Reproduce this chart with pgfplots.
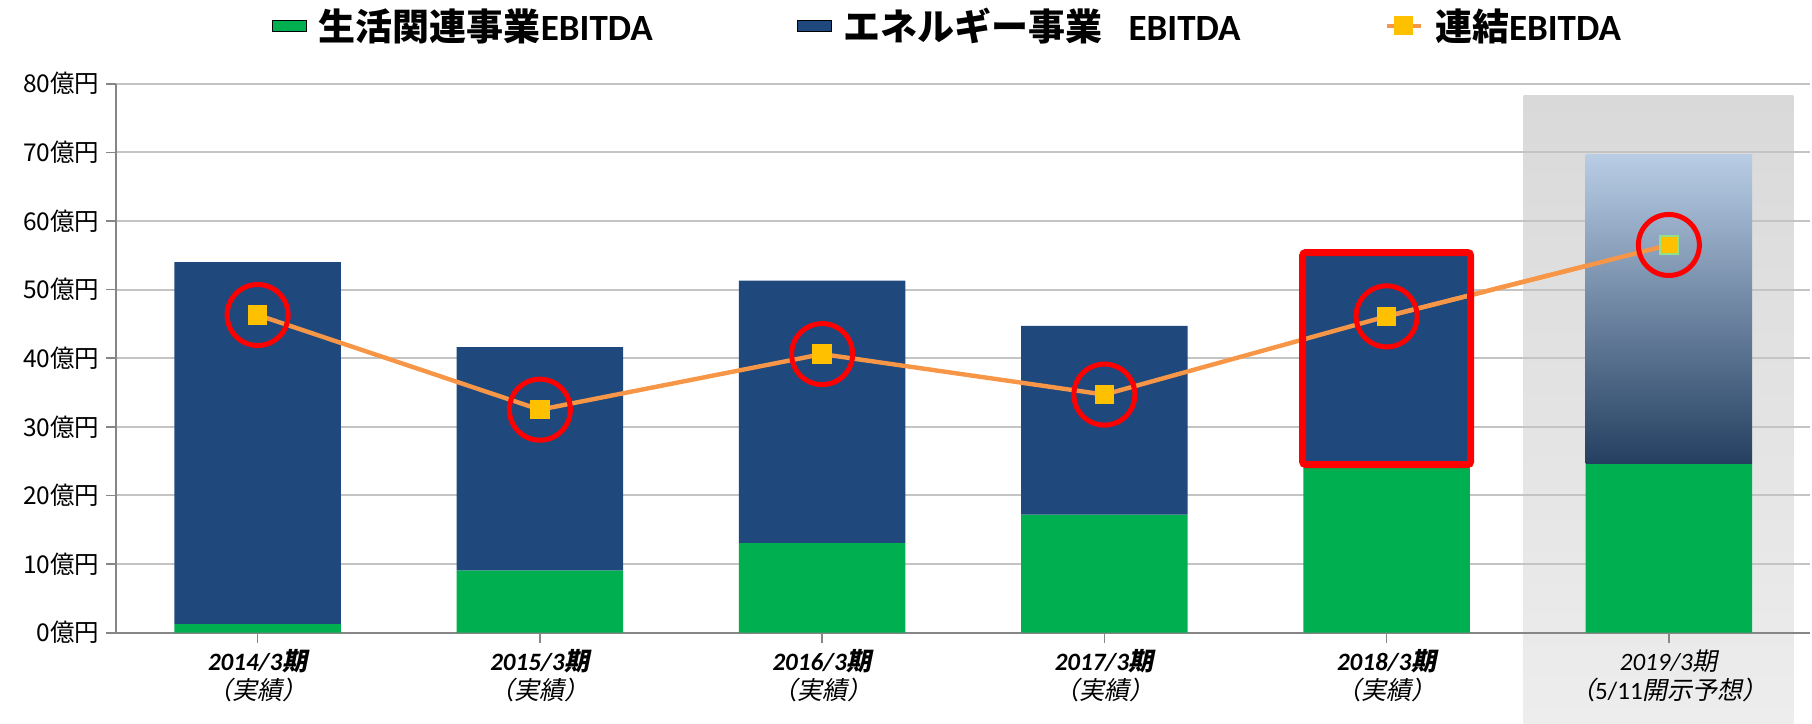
\documentclass[border=0pt]{standalone}
\usepackage{pgfplots}
\pgfplotsset{compat=1.18}
\usepackage{fontspec}
\setmainfont{Carlito}
\newfontfamily\jp{Noto Sans CJK JP}
\newfontfamily\jpi{Noto Sans CJK JP}[FakeSlant=0.2]
\definecolor{grn}{HTML}{00B050}
\definecolor{nav}{HTML}{1F497D}
\definecolor{org}{HTML}{F79646}
\definecolor{yel}{HTML}{FFC000}
\definecolor{lgr}{HTML}{92E08A}
\definecolor{gridc}{HTML}{C4C4C4}
\definecolor{axc}{HTML}{868686}
\definecolor{bgtop}{HTML}{D9D9D9}
\definecolor{bgbot}{HTML}{EDEDED}
\definecolor{gtop}{HTML}{B9CDE5}
\definecolor{gmid}{HTML}{376092}
\definecolor{gbot}{HTML}{243F60}
\begin{document}
\begin{tikzpicture}
\shade[top color=bgtop, bottom color=bgbot] (703.6pt,-45.5pt) rectangle (838.4pt,268.7pt);
\path (-58.25pt,-45.5pt) rectangle (847.75pt,316pt);
\begin{axis}[
  scale only axis, width=846.75pt, height=274.5pt,
  xmin=-0.5, xmax=5.5, ymin=0, ymax=80,
  ybar stacked, bar width=0.59,
  reverse stacked plots=false,
  axis x line*=bottom, axis y line*=left,
  axis line style={draw=axc, line width=1pt},
  tick align=outside,
  major tick length=5pt,
  ytick={0,10,20,30,40,50,60,70,80},
  yticklabels={0{\jp 億円},10{\jp 億円},20{\jp 億円},30{\jp 億円},40{\jp 億円},50{\jp 億円},60{\jp 億円},70{\jp 億円},80{\jp 億円}},
  y tick label style={font=\jp\fontsize{12.25pt}{14pt}\selectfont},
  ymajorgrids, grid style={draw=gridc, line width=1pt},
  tick style={draw=axc, line width=0.8pt},
  xtick={0,1,2,3,4,5},
  xticklabels={
    {\bfseries\itshape 2014/3{\jpi 期}\\{\jpi （実績）}},
    {\bfseries\itshape 2015/3{\jpi 期}\\{\jpi （実績）}},
    {\bfseries\itshape 2016/3{\jpi 期}\\{\jpi （実績）}},
    {\bfseries\itshape 2017/3{\jpi 期}\\{\jpi （実績）}},
    {\bfseries\itshape 2018/3{\jpi 期}\\{\jpi （実績）}},
    {\itshape 2019/3{\jpi 期}\\{\jpi （}5/11{\jpi 開示予想）}}},
  x tick label style={align=center, font=\fontsize{12.5pt}{14.5pt}\selectfont},
  legend style={at={(0.088,1.1056)}, anchor=west, draw=none, fill=none,
    legend columns=3,
    font=\fontsize{18.5pt}{21pt}\selectfont\bfseries,
    /tikz/every odd column/.append style={column sep=4pt},
    /tikz/every even column/.append style={column sep=70pt}},
  legend cell align=left,
]
\addplot[fill=grn, draw=none, area legend]
  coordinates {(0,1.3) (1,9.1) (2,13.1) (3,17.2) (4,24.1) (5,24.6)};
\addplot[fill=nav, draw=none, area legend]
  coordinates {(0,52.7) (1,32.5) (2,38.2) (3,27.5) (4,30.9) (5,0)};
\addplot[sharp plot, stack plots=false, draw=org, line width=2.2pt, line legend,
  mark=square*, mark size=4.6pt, mark options={fill=yel, draw=yel, line width=0.5pt}]
  coordinates {(0,46.3) (1,32.5) (2,40.6) (3,34.7) (4,46.1) (5,56.5)};
\addplot[top color=gtop, middle color=gmid, bottom color=gbot, draw=none]
  coordinates {(0,0) (1,0) (2,0) (3,0) (4,0) (5,45.1)};
\addplot[sharp plot, stack plots=false, draw=org, line width=2.2pt, forget plot]
  coordinates {(4,46.1) (5,56.5)};
\addplot[only marks, stack plots=false, mark=square*, mark size=4.6pt,
  mark options={fill=yel, draw=lgr, line width=1pt}]
  coordinates {(5,56.5)};
\addplot[only marks, stack plots=false, mark=o, mark size=15.25pt,
  mark options={draw=red, line width=2.5pt}]
  coordinates {(0,46.3) (1,32.5) (2,40.6) (3,34.7) (4,46.1) (5,56.5)};
\draw[red, line width=3.5pt, rounded corners=1.5pt] (axis cs:3.7025,24.5) rectangle (axis cs:4.2975,55.4);
\legend{{\jp 生活関連事業}EBITDA, {\jp エネルギー事業}\hspace{13pt}EBITDA, {\jp 連結}EBITDA}
\end{axis}
\end{tikzpicture}
\end{document}
